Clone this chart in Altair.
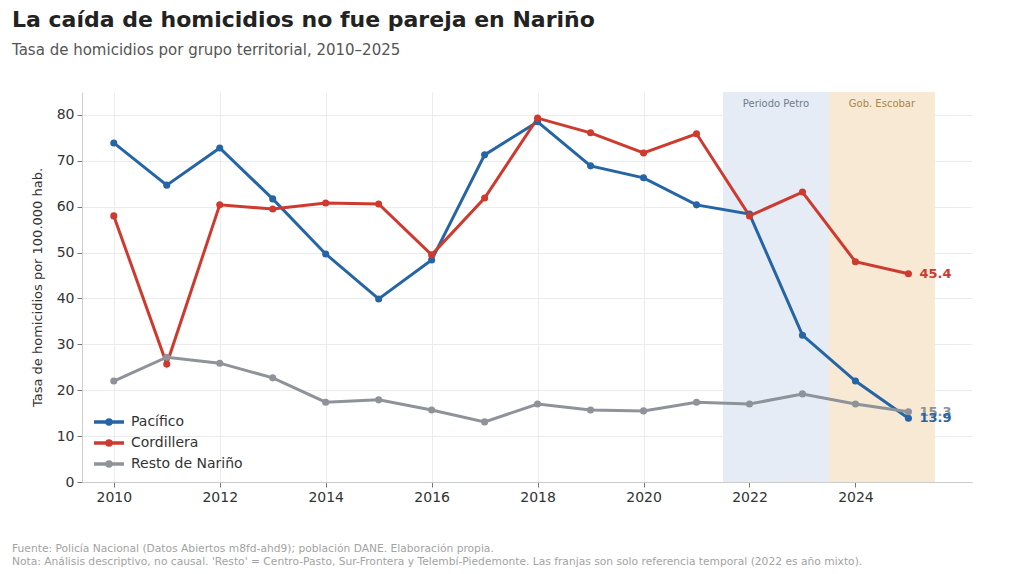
import altair as alt
import pandas as pd

years = list(range(2010, 2026))
pacifico = [73.9, 64.7, 72.8, 61.7, 49.7, 39.9, 48.4, 71.3, 78.5, 68.9, 66.3, 60.4, 58.4, 32.0, 22.0, 13.9]
cordillera = [58.0, 25.7, 60.4, 59.5, 60.8, 60.6, 49.5, 61.9, 79.3, 76.1, 71.7, 75.9, 58.0, 63.2, 48.0, 45.4]
resto = [22.0, 27.2, 25.9, 22.7, 17.4, 17.9, 15.7, 13.1, 17.0, 15.7, 15.5, 17.4, 17.0, 19.2, 17.0, 15.3]
series = ["Pacífico", "Cordillera", "Resto de Nariño"]
colors = ["#2565a5", "#cf3a2f", "#8e9299"]

band_labels = ["Periodo Petro", "Gob. Escobar"]
band_start = [2021.5, 2023.5]
band_end = [2023.5, 2025.5]
band_colors = ["#e5ecf5", "#f7e9d3"]
band_text_colors = ["#6f7c8e", "#a8864f"]

title = "La caída de homicidios no fue pareja en Nariño"
subtitle = "Tasa de homicidios por grupo territorial, 2010–2025"
y_title = "Tasa de homicidios por 100.000 hab."
note_source = "Fuente: Policía Nacional (Datos Abiertos m8fd-ahd9); población DANE. Elaboración propia."
note_method = ("Nota: Análisis descriptivo, no causal. 'Resto' = Centro-Pasto, Sur-Frontera y "
               "Telembí-Piedemonte. Las franjas son solo referencia temporal (2022 es año mixto).")

W, H = 890, 390
FONT = "DejaVu Sans"

rows = []
for name, vals in zip(series, [pacifico, cordillera, resto]):
    for y, v in zip(years, vals):
        rows.append({"year": y, "value": v, "serie": name})
df = pd.DataFrame(rows)

end_df = pd.DataFrame({
    "year": [years[-1]] * 3,
    "value": [resto[-1], cordillera[-1], pacifico[-1]],
    "serie": ["Resto de Nariño", "Cordillera", "Pacífico"],
})
end_df["label"] = end_df["value"].map(lambda v: f"{v:.1f}")

bands = pd.DataFrame({
    "label": band_labels,
    "start": band_start,
    "end": band_end,
    "fill": band_colors,
    "tcolor": band_text_colors,
})
bands["mid"] = (bands["start"] + bands["end"]) / 2

xscale = alt.Scale(domain=[2009.4, 2026.2], nice=False, zero=False)
yscale = alt.Scale(domain=[0, 85], nice=False)
cscale = alt.Scale(domain=series, range=colors)

band_rect = alt.Chart(bands).mark_rect().encode(
    x=alt.X("start:Q", scale=xscale),
    x2="end:Q",
    y=alt.value(0),
    y2=alt.value(H),
    color=alt.Color("fill:N", scale=None),
)

band_text = alt.Chart(bands).mark_text(font=FONT, fontSize=10, baseline="middle").encode(
    x=alt.X("mid:Q", scale=xscale),
    y=alt.value(12),
    text="label:N",
    color=alt.Color("tcolor:N", scale=None),
)

legend_symbol = "M-1.5,0L1.5,0M-0.2,0A0.2,0.2 0 1,1 0.2,0A0.2,0.2 0 1,1 -0.2,0"

lines = alt.Chart(df).mark_line(strokeWidth=3).encode(
    x=alt.X("year:Q", scale=xscale,
            axis=alt.Axis(values=list(range(2010, 2025, 2)), format="d", title=None)),
    y=alt.Y("value:Q", scale=yscale,
            axis=alt.Axis(values=list(range(0, 90, 10)), title=y_title)),
    color=alt.Color("serie:N", scale=cscale,
                    legend=alt.Legend(title=None, orient="none", legendX=15, legendY=318,
                                      symbolType=legend_symbol, symbolStrokeWidth=3.5,
                                      symbolSize=400, labelFontSize=14, labelFont=FONT,
                                      labelColor="#333", rowPadding=0, labelOffset=10)),
    order=alt.Order("year:Q"),
)

points = alt.Chart(df).mark_circle(size=50, opacity=1).encode(
    x=alt.X("year:Q", scale=xscale),
    y=alt.Y("value:Q", scale=yscale),
    color=alt.Color("serie:N", scale=cscale, legend=None),
)

end_text = alt.Chart(end_df).mark_text(font=FONT, fontSize=13, fontWeight="bold",
                                       align="left", baseline="middle", dx=11).encode(
    x=alt.X("year:Q", scale=xscale),
    y=alt.Y("value:Q", scale=yscale),
    text="label:N",
    color=alt.Color("serie:N", scale=cscale, legend=None),
)

note1 = alt.Chart(pd.DataFrame({"t": [note_source]})).mark_text(
    font=FONT, fontSize=10.7, color="#a3a3a3", align="left", baseline="middle").encode(
    x=alt.value(-70), y=alt.value(H + 67), text="t:N")
note2 = alt.Chart(pd.DataFrame({"t": [note_method]})).mark_text(
    font=FONT, fontSize=10.7, color="#a3a3a3", align="left", baseline="middle").encode(
    x=alt.value(-70), y=alt.value(H + 80), text="t:N")

chart = alt.layer(band_rect, band_text, lines, points, end_text, note1, note2).resolve_scale(
    color="independent"
).properties(
    width=W, height=H,
    autosize=alt.AutoSizeParams(type="none"),
    padding={"left": 74, "top": 84, "right": 44, "bottom": 92},
    title=alt.TitleParams(
        text=title, subtitle=subtitle, anchor="start", frame="group", dx=-70,
        font=FONT, fontSize=22, fontWeight="bold", color="#222222",
        subtitleFont=FONT, subtitleFontSize=15, subtitleColor="#555555",
        subtitlePadding=11, offset=33,
    ),
).configure_view(stroke=None).configure_axis(
    labelFont=FONT, labelFontSize=14, labelColor="#333333",
    titleFont=FONT, titleFontSize=13, titleFontWeight="normal", titleColor="#333333",
    domainColor="#cccccc", tickColor="#777777", tickSize=5,
    gridColor="#ececec", labelPadding=3, titlePadding=12,
)

chart.save("out.html", embed_options={"renderer": "svg", "actions": False})
